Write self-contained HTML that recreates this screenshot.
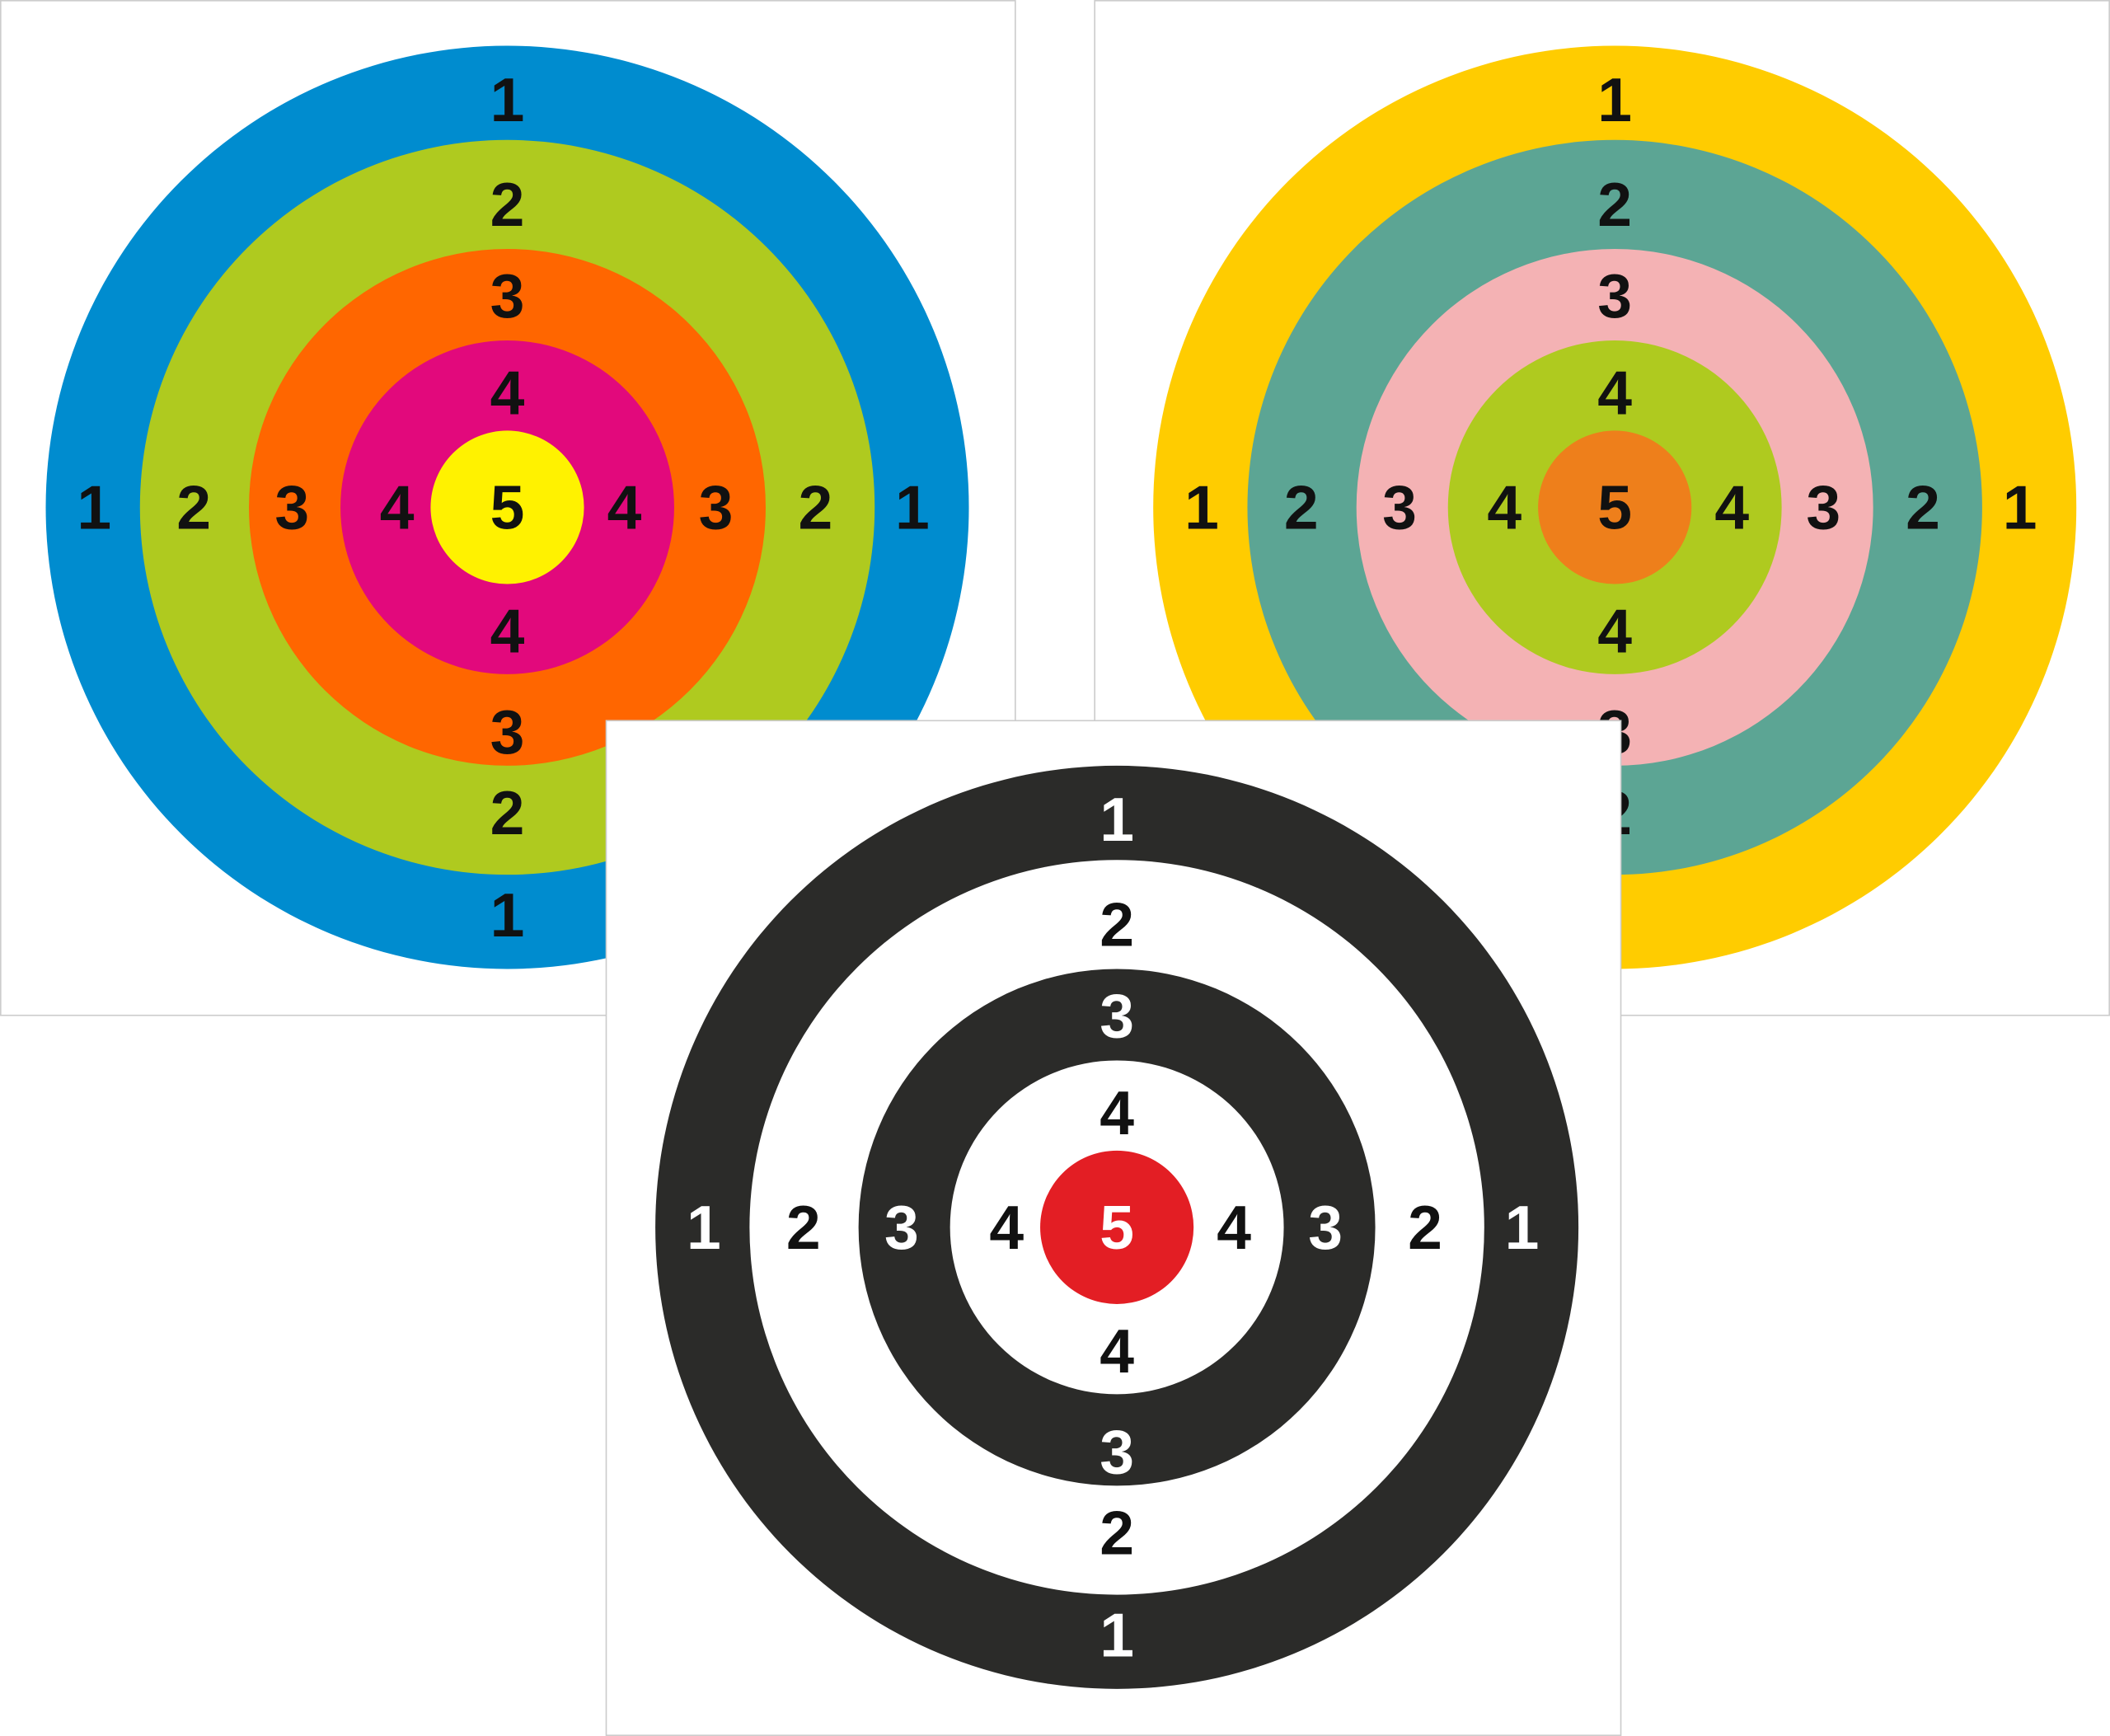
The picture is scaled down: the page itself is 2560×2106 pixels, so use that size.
<!DOCTYPE html>
<html><head><meta charset="utf-8"><style>
html,body{margin:0;padding:0;background:#fff;}
svg{display:block;}
text{font-family:"Liberation Sans",sans-serif;font-weight:bold;font-size:46px;text-anchor:middle;dominant-baseline:central;}
</style></head><body>
<svg width="2560" height="2106" viewBox="0 0 1568 1290" preserveAspectRatio="none" xmlns="http://www.w3.org/2000/svg">
<!-- Left -->
<rect x="0.5" y="0.5" width="754" height="754" fill="#fff" stroke="#ccc"/>
<g transform="translate(377,377)">
<circle r="343" fill="#008ccf"/><circle r="273" fill="#afca1f"/><circle r="192" fill="#ff6600"/><circle r="124" fill="#e2097c"/><circle r="57" fill="#fff200"/>
<g fill="#111">
<text y="-303">1</text><text y="303">1</text><text x="-307">1</text><text x="301">1</text>
<text y="-225">2</text><text y="227">2</text><text x="-233">2</text><text x="229">2</text>
<text y="-157">3</text><text y="167">3</text><text x="-160">3</text><text x="155">3</text>
<text y="-85">4</text><text y="92">4</text><text x="-82">4</text><text x="87">4</text>
<text y="0">5</text></g></g>
<!-- Right -->
<rect x="813.5" y="0.5" width="754" height="754" fill="#fff" stroke="#ccc"/>
<g transform="translate(1200,377)">
<circle r="343" fill="#ffcc00"/><circle r="273" fill="#5ca594"/><circle r="192" fill="#f4b2b4"/><circle r="124" fill="#afca1f"/><circle r="57" fill="#ee7f1b"/>
<g fill="#111">
<text y="-303">1</text><text x="-307">1</text><text x="301">1</text>
<text y="-225">2</text><text y="227">2</text><text x="-233">2</text><text x="229">2</text>
<text y="-157">3</text><text y="167">3</text><text x="-160">3</text><text x="155">3</text>
<text y="-85">4</text><text y="92">4</text><text x="-82">4</text><text x="87">4</text>
<text y="0">5</text></g></g>
<!-- Bottom -->
<rect x="450.5" y="535.5" width="754" height="754" fill="#fff" stroke="#ccc"/>
<g transform="translate(830,912)">
<circle r="343" fill="#2b2b29"/><circle r="273" fill="#fff"/><circle r="192" fill="#2b2b29"/><circle r="124" fill="#fff"/><circle r="57" fill="#e31e24"/>
<g fill="#fff"><text y="-303">1</text><text y="303">1</text><text x="-307">1</text><text x="301">1</text>
<text y="-157">3</text><text y="167">3</text><text x="-160">3</text><text x="155">3</text><text y="0">5</text></g>
<g fill="#111"><text y="-225">2</text><text y="227">2</text><text x="-233">2</text><text x="229">2</text>
<text y="-85">4</text><text y="92">4</text><text x="-82">4</text><text x="87">4</text></g>
</g>
</svg>
</body></html>
